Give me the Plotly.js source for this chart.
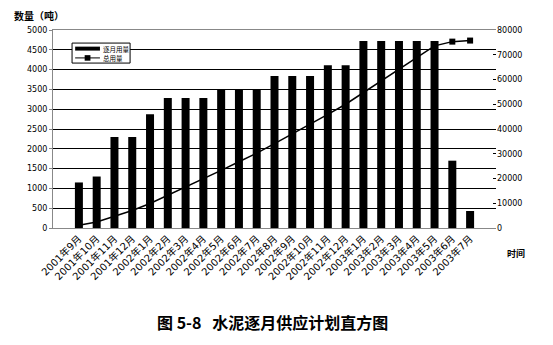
<!DOCTYPE html>
<html><head><meta charset="utf-8">
<script src="https://cdn.plot.ly/plotly-3.0.1.min.js"></script>
<style>html,body{margin:0;padding:0;background:#fff;}#chart{width:553px;height:345px;}</style>
</head><body><div id="chart"></div>
<script>
const months = ["2001年9月","2001年10月","2001年11月","2001年12月","2002年1月","2002年2月","2002年3月","2002年4月","2002年5月","2002年6月","2002年7月","2002年8月","2002年9月","2002年10月","2002年11月","2002年12月","2003年1月","2003年2月","2003年3月","2003年4月","2003年5月","2003年6月","2003年7月"];
const monthlyUse = [1150,1300,2300,2300,2870,3280,3280,3280,3500,3500,3500,3840,3840,3840,4110,4110,4720,4720,4720,4720,4720,1700,430];
const totalUse = [1150,2450,4750,7050,9920,13200,16480,19760,23260,26760,30260,34100,37940,41780,45890,50000,54720,59440,64160,68880,73600,75300,75730];
const seriesNames = ["逐月用量","总用量"];
const leftTicks = [0,500,1000,1500,2000,2500,3000,3500,4000,4500,5000];
const rightTicks = [0,10000,20000,30000,40000,50000,60000,70000,80000];

const F = "DejaVu Sans, Noto Sans CJK SC, sans-serif";
const data = [
  {type:"bar", x:months, y:monthlyUse, name:seriesNames[0], marker:{color:"#000"}, yaxis:"y"},
  {type:"scatter", mode:"lines+markers", x:months, y:totalUse, name:seriesNames[1], yaxis:"y2",
   line:{color:"#000", width:1.5}, marker:{symbol:"square", size:6, color:"#000"}}
];
// custom legend in paper coordinates
const lx0 = 0.043, lx1 = 0.174, ly0 = 0.833, ly1 = 0.934;
const shapes = [
  {type:"rect", xref:"paper", yref:"paper", x0:lx0, x1:lx1, y0:ly0, y1:ly1, line:{color:"#000", width:1}, fillcolor:"#fff", layer:"above"},
  {type:"rect", xref:"paper", yref:"paper", x0:0.05, x1:0.106, y0:0.896, y1:0.916, line:{width:0}, fillcolor:"#000", layer:"above"},
  {type:"line", xref:"paper", yref:"paper", x0:0.05, x1:0.106, y0:0.859, y1:0.859, line:{color:"#000", width:1}, layer:"above"},
  {type:"rect", xref:"paper", yref:"paper", x0:0.0715, x1:0.0845, y0:0.845, y1:0.873, line:{width:0}, fillcolor:"#000", layer:"above"}
];
const layout = {
  width:553, height:345,
  margin:{l:53, r:57, t:30, b:117},
  paper_bgcolor:"#fff", plot_bgcolor:"#fff",
  bargap:0.55,
  showlegend:false,
  shapes:shapes,
  xaxis:{type:"category", tickangle:-45, tickfont:{family:F, size:10, color:"#000"},
    showline:true, linecolor:"#888", mirror:true, ticks:"inside", ticklen:3, tickcolor:"#000", showgrid:false},
  yaxis:{range:[0,5000], tickvals:leftTicks, ticktext:leftTicks.map(String), tickfont:{family:F, size:8, color:"#000"},
    showgrid:true, gridcolor:"#000", gridwidth:1, showline:true, linecolor:"#888", ticks:"outside", ticklen:3, tickcolor:"#888", zeroline:false},
  yaxis2:{range:[0,80000], overlaying:"y", side:"right", tickvals:rightTicks, ticktext:rightTicks.map(String),
    tickfont:{family:F, size:8, color:"#000"}, showgrid:false, ticks:"inside", ticklen:3, tickcolor:"#000", zeroline:false, showline:false},
  annotations:[
    {text:seriesNames[0], xref:"paper", yref:"paper", x:0.108, y:0.906, xanchor:"left", yanchor:"middle", showarrow:false,
     font:{family:"Noto Sans CJK SC", size:6.5, color:"#000"}},
    {text:seriesNames[1], xref:"paper", yref:"paper", x:0.108, y:0.859, xanchor:"left", yanchor:"middle", showarrow:false,
     font:{family:"Noto Sans CJK SC", size:6.5, color:"#000"}},
    {text:"<b>数量（吨）</b>", xref:"paper", yref:"paper", x:-0.093, y:1.0, yshift:5, xanchor:"left", yanchor:"bottom", showarrow:false,
     font:{family:"Noto Sans CJK SC", size:10, color:"#000"}},
    {text:"<b>时间</b>", xref:"paper", yref:"paper", x:1.02, y:0, yshift:-25, xanchor:"left", yanchor:"middle", showarrow:false,
     font:{family:"Noto Sans CJK SC", size:9, color:"#000"}},
    {text:"<b>图 5-8   水泥逐月供应计划直方图</b>", xref:"paper", yref:"paper", x:0.495, y:0, yshift:-94, xanchor:"center", yanchor:"middle", showarrow:false,
     font:{family:"Noto Sans CJK SC", size:16, color:"#000"}}
  ]
};
Plotly.newPlot("chart", data, layout, {displayModeBar:false, staticPlot:true});
</script></body></html>
